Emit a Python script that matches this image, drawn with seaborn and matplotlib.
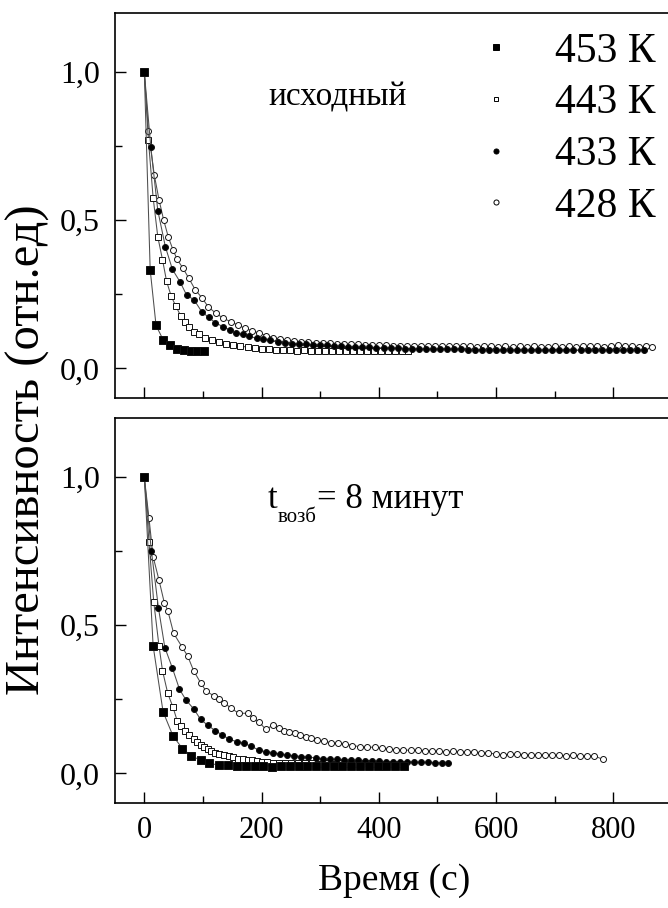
import matplotlib
matplotlib.use("Agg")
import matplotlib.pyplot as plt
from matplotlib.lines import Line2D
from matplotlib.ticker import MultipleLocator, FuncFormatter
import seaborn as sns
import pandas as pd

# ---------------- data ----------------
labels = ["453 К", "443 К", "433 К", "428 К"]

# top panel: "исходный"
top_t_453 = [0, 10, 20, 32, 43, 55, 67, 79, 90, 101]
top_i_453 = [1.0, 0.333, 0.145, 0.097, 0.078, 0.067, 0.061, 0.058, 0.058, 0.059]

top_t_443 = [0, 7, 15, 23, 31, 38, 46, 54, 62, 70, 77, 85, 94, 104,
             116, 128, 140, 152, 164, 176, 188, 200, 212, 224,
             236, 248, 260, 272, 284, 296, 308, 320, 332, 344,
             356, 368, 380, 392, 404, 416, 428, 440, 450]
top_i_443 = [1.0, 0.77, 0.577, 0.444, 0.367, 0.294, 0.243, 0.209, 0.178, 0.155, 0.139, 0.123, 0.115, 0.104,
             0.096, 0.089, 0.082, 0.078, 0.075, 0.072, 0.069, 0.066, 0.064, 0.063,
             0.062, 0.061, 0.060, 0.061, 0.059, 0.060, 0.059, 0.060, 0.058, 0.059,
             0.060, 0.058, 0.059, 0.058, 0.059, 0.060, 0.058, 0.059, 0.058]

top_t_433 = [0, 11, 23, 36, 48, 61, 72, 85, 98, 110,
             121, 134, 146, 157, 169, 179, 192, 203, 215, 228,
             240, 252, 264, 276, 288, 300, 312, 324, 336, 348,
             360, 372, 384, 396, 408, 420, 432, 444, 456, 468,
             480, 492, 504, 516, 528, 540, 552, 564, 576, 588,
             600, 612, 624, 636, 648, 660, 672, 684, 696, 708,
             720, 732, 744, 756, 768, 780, 792, 804, 816, 828,
             840, 852]
top_i_433 = [1.0, 0.749, 0.533, 0.41, 0.334, 0.292, 0.248, 0.231, 0.191, 0.172,
             0.154, 0.141, 0.130, 0.118, 0.115, 0.109, 0.101, 0.098, 0.096, 0.090,
             0.087, 0.084, 0.083, 0.081, 0.080, 0.079, 0.078, 0.076, 0.074, 0.073,
             0.072, 0.071, 0.071, 0.070, 0.069, 0.068, 0.068, 0.067, 0.066, 0.065,
             0.064, 0.064, 0.066, 0.067, 0.065, 0.064, 0.063, 0.062, 0.062, 0.063,
             0.062, 0.061, 0.062, 0.063, 0.062, 0.061, 0.062, 0.062, 0.061, 0.063,
             0.062, 0.061, 0.062, 0.061, 0.062, 0.063, 0.061, 0.062, 0.061, 0.062,
             0.061, 0.062]

top_t_428 = [0, 7, 17, 25, 33, 41, 49, 56, 66, 76,
             87, 98, 109, 122, 135, 147, 160, 172, 184, 196,
             208, 220, 232, 244, 256, 268, 280, 292, 304, 316,
             328, 340, 352, 364, 376, 388, 400, 412, 424, 436,
             448, 460, 472, 484, 496, 508, 520, 532, 544, 556,
             568, 580, 592, 604, 616, 628, 640, 652, 664, 676,
             688, 700, 712, 724, 736, 748, 760, 772, 784, 796,
             808, 820, 832, 844, 856, 866]
top_i_428 = [1.0, 0.80, 0.653, 0.57, 0.501, 0.443, 0.40, 0.368, 0.338, 0.304,
             0.265, 0.239, 0.208, 0.186, 0.169, 0.158, 0.146, 0.135, 0.127, 0.119,
             0.111, 0.104, 0.099, 0.095, 0.092, 0.090, 0.089, 0.087, 0.086, 0.085,
             0.084, 0.083, 0.082, 0.081, 0.080, 0.079, 0.079, 0.078, 0.077, 0.077,
             0.076, 0.076, 0.075, 0.075, 0.076, 0.074, 0.075, 0.076, 0.075, 0.074,
             0.073, 0.074, 0.075, 0.073, 0.074, 0.073, 0.074, 0.073, 0.074, 0.073,
             0.072, 0.074, 0.073, 0.074, 0.073, 0.074, 0.075, 0.074, 0.073, 0.076,
             0.079, 0.076, 0.074, 0.073, 0.074, 0.072]

# bottom panel: "t_возб = 8 минут"
bot_t_453 = [0, 15, 32, 49, 65, 80, 96, 111, 127, 142,
             158, 173, 188, 203, 218, 233, 248, 263, 278, 293,
             308, 323, 338, 353, 368, 383, 398, 413, 428, 443]
bot_i_453 = [1.0, 0.431, 0.208, 0.126, 0.084, 0.059, 0.045, 0.034, 0.028, 0.028,
             0.025, 0.025, 0.024, 0.025, 0.023, 0.024, 0.025, 0.024, 0.026, 0.025,
             0.024, 0.025, 0.026, 0.024, 0.025, 0.026, 0.024, 0.025, 0.024, 0.026]

bot_t_443 = [0, 8, 16, 25, 31, 40, 49, 56, 63, 70,
             77, 84, 90, 96, 102, 108, 114, 121, 128, 136,
             144, 152, 160, 168, 176, 184, 192, 201, 210, 220,
             230, 240, 250, 262, 274, 286, 298, 310, 322, 334,
             346, 358, 370, 382, 394, 406, 418, 430, 440]
bot_i_443 = [1.0, 0.78, 0.58, 0.431, 0.347, 0.27, 0.223, 0.178, 0.160, 0.144,
             0.128, 0.115, 0.105, 0.096, 0.088, 0.081, 0.075, 0.070, 0.066, 0.062,
             0.058, 0.054, 0.050, 0.047, 0.046, 0.045, 0.042, 0.039, 0.038, 0.036,
             0.036, 0.036, 0.035, 0.034, 0.035, 0.034, 0.033, 0.034, 0.033, 0.034,
             0.033, 0.032, 0.033, 0.034, 0.033, 0.032, 0.033, 0.032, 0.033]

bot_t_433 = [0, 12, 24, 35, 48, 60, 71, 85, 96, 108,
             121, 133, 145, 158, 170, 182, 195, 207, 220, 232,
             244, 256, 268, 280, 292, 304, 316, 328, 340, 352,
             364, 376, 388, 400, 412, 424, 436, 448, 460, 472,
             484, 496, 508, 518]
bot_i_433 = [1.0, 0.752, 0.56, 0.425, 0.355, 0.284, 0.248, 0.216, 0.182, 0.163,
             0.144, 0.130, 0.115, 0.107, 0.101, 0.092, 0.079, 0.073, 0.070, 0.065,
             0.062, 0.059, 0.057, 0.055, 0.052, 0.050, 0.048, 0.047, 0.046, 0.045,
             0.044, 0.043, 0.042, 0.041, 0.040, 0.039, 0.039, 0.039, 0.038, 0.037,
             0.037, 0.036, 0.036, 0.036]

bot_t_428 = [0, 8, 15, 25, 34, 40, 50, 64, 74, 84,
             96, 105, 119, 128, 136, 148, 161, 176, 186, 195,
             207, 220, 229, 238, 247, 257, 266, 275, 285, 294,
             306, 318, 330, 343, 355, 368, 380, 393, 405, 417,
             430, 442, 455, 467, 479, 491, 503, 515, 527, 539,
             551, 563, 575, 587, 599, 611, 623, 635, 647, 659,
             671, 683, 695, 707, 719, 731, 743, 755, 767, 782]
bot_i_428 = [1.0, 0.861, 0.732, 0.653, 0.577, 0.55, 0.473, 0.428, 0.396, 0.347,
             0.306, 0.279, 0.261, 0.250, 0.239, 0.220, 0.203, 0.203, 0.186, 0.175,
             0.149, 0.163, 0.153, 0.144, 0.140, 0.135, 0.130, 0.124, 0.118, 0.113,
             0.108, 0.104, 0.101, 0.099, 0.094, 0.090, 0.089, 0.088, 0.085, 0.081,
             0.080, 0.079, 0.078, 0.078, 0.077, 0.076, 0.075, 0.073, 0.074, 0.073,
             0.073, 0.072, 0.070, 0.068, 0.066, 0.062, 0.065, 0.065, 0.063, 0.062,
             0.062, 0.063, 0.062, 0.061, 0.060, 0.061, 0.060, 0.059, 0.060, 0.047]

x_ticks = [0, 200, 400, 600, 800]
y_ticks = [0.0, 0.5, 1.0]
top_note = "исходный"
bot_note_main = "t"
bot_note_sub = "возб"
bot_note_rest = "= 8 минут"
x_label = "Время (с)"
y_label = "Интенсивность (отн.ед)"

# ---------------- style ----------------
sns.set_theme(style="ticks")
plt.rcParams["font.family"] = ["Liberation Serif", "DejaVu Serif"]
for key in ("text.color", "axes.labelcolor", "xtick.color", "ytick.color", "axes.edgecolor"):
    plt.rcParams[key] = "black"

styles = {
    "453 К": dict(marker="s", mfc="black", ms=5.4),
    "443 К": dict(marker="s", mfc="white", ms=4.0),
    "433 К": dict(marker="o", mfc="black", ms=4.3),
    "428 К": dict(marker="o", mfc="white", ms=4.3),
}

W, H = 668, 908
fig = plt.figure(figsize=(W / 100, H / 100), dpi=100)
left_px, right_px = 115, 672
left = left_px / W
width = (right_px - left_px) / W
ax_top = fig.add_axes([left, 1 - 398 / H, width, 385 / H])
ax_bot = fig.add_axes([left, 1 - 803 / H, width, 385 / H])

top_series = {"428 К": (top_t_428, top_i_428), "443 К": (top_t_443, top_i_443),
              "433 К": (top_t_433, top_i_433), "453 К": (top_t_453, top_i_453)}
bot_series = {"428 К": (bot_t_428, bot_i_428), "443 К": (bot_t_443, bot_i_443),
              "433 К": (bot_t_433, bot_i_433), "453 К": (bot_t_453, bot_i_453)}

for ax, series in ((ax_top, top_series), (ax_bot, bot_series)):
    for name, (tt, ii) in series.items():
        df = pd.DataFrame({"t": tt, "I": ii})
        st = styles[name]
        sns.lineplot(data=df, x="t", y="I", ax=ax, color="#4d4d4d", lw=0.75,
                     marker=st["marker"], markersize=st["ms"],
                     markerfacecolor=st["mfc"], markeredgecolor="#111111",
                     markeredgewidth=0.7, legend=False, sort=True)
    ax.set_xlim(-50, 900)
    ax.set_ylim(-0.1, 1.2)
    ax.set_xticks(x_ticks)
    ax.set_yticks(y_ticks)
    ax.xaxis.set_minor_locator(MultipleLocator(100))
    ax.yaxis.set_minor_locator(MultipleLocator(0.25))
    ax.yaxis.set_major_formatter(FuncFormatter(lambda v, p: f"{v:.1f}".replace(".", ",")))
    ax.tick_params(which="major", direction="in", length=8, width=1.0,
                   color="black", labelcolor="black")
    ax.tick_params(axis="x", which="major", labelsize=22, pad=9)
    ax.tick_params(axis="y", which="major", labelsize=23, pad=11)
    ax.tick_params(which="minor", direction="in", length=4.8, width=1.0, color="black")
    ax.tick_params(axis="x", which="both", top=False)
    ax.tick_params(axis="y", which="both", right=False)
    ax.set_xlabel("")
    ax.set_ylabel("")
    for s in ax.spines.values():
        s.set_linewidth(1.2)
        s.set_color("black")
    ax.set_facecolor("white")

ax_top.tick_params(axis="x", labelbottom=False)

ax_top.text(338 / W, 1 - 97 / H, top_note, transform=fig.transFigure,
            ha="center", va="center", fontsize=24)
ax_bot.text(268 / W, 1 - 508 / H, bot_note_main, transform=fig.transFigure,
            ha="left", va="baseline", fontsize=25)
ax_bot.text(278 / W, 1 - 522 / H, bot_note_sub, transform=fig.transFigure,
            ha="left", va="baseline", fontsize=15)
ax_bot.text(317 / W, 1 - 508 / H, bot_note_rest, transform=fig.transFigure,
            ha="left", va="baseline", fontsize=25)

handles = [Line2D([], [], ls="none", marker=styles[n]["marker"],
                  markerfacecolor=styles[n]["mfc"], markeredgecolor="black",
                  markeredgewidth=0.7, markersize=styles[n]["ms"] * 0.85)
           for n in labels]
ax_top.legend(handles, labels, loc="upper left", bbox_to_anchor=(485.6 / W, 1 - 32 / H),
              bbox_transform=fig.transFigure, frameon=False, fontsize=30,
              handlelength=0.5, handletextpad=1.17, borderpad=0, borderaxespad=0,
              labelspacing=0.32)

fig.text(394 / W, 1 - 890 / H, x_label, ha="center", va="baseline", fontsize=27)
fig.text(28 / W, 1 - 450 / H, y_label, ha="center", va="center", rotation=90, fontsize=35)

fig.savefig("out.png", dpi=100, facecolor="white")
